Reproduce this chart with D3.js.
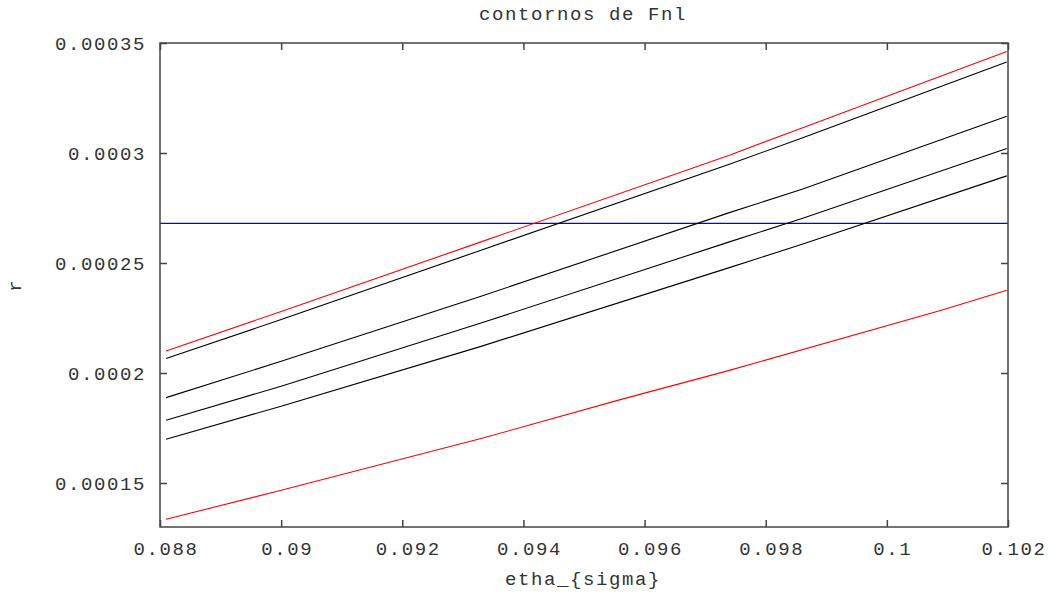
<!DOCTYPE html>
<html>
<head>
<meta charset="utf-8">
<script src="https://cdn.jsdelivr.net/npm/d3@7"></script>
<style>
  html, body { margin: 0; padding: 0; background: #fff; }
  svg text { font-family: "Liberation Mono", "DejaVu Sans Mono", monospace; font-size: 19px; letter-spacing: 1.6px; fill: #333; }
</style>
</head>
<body>
<svg id="chart" width="1049" height="593"></svg>
<script>
// ---- data ----
const xTicks = [0.088, 0.09, 0.092, 0.094, 0.096, 0.098, 0.1, 0.102];
const xTickLabels = ["0.088", "0.09", "0.092", "0.094", "0.096", "0.098", "0.1", "0.102"];
const yTicks = [0.00015, 0.0002, 0.00025, 0.0003, 0.00035];
const yTickLabels = ["0.00015", "0.0002", "0.00025", "0.0003", "0.00035"];

const etha = [0.0881, 0.09, 0.0933, 0.0974, 0.0986, 0.10198];
const redTop = [0.0002100, 0.0002280, 0.0002596, 0.0002990, 0.0003114, 0.0003461];
const black1 = [0.0002066, 0.0002243, 0.0002558, 0.0002949, 0.0003068, 0.0003414];
const black2 = [0.0001888, 0.0002053, 0.0002349, 0.0002729, 0.0002835, 0.0003167];
const black3 = [0.0001785, 0.0001940, 0.0002227, 0.0002596, 0.0002702, 0.0003020];
const black4 = [0.0001699, 0.0001849, 0.0002121, 0.0002479, 0.0002585, 0.0002896];

const ethaLow = [0.0881, 0.09, 0.0933, 0.0956, 0.0974, 0.1009, 0.10198];
const redBottom = [0.0001335, 0.0001467, 0.0001702, 0.0001879, 0.0002012, 0.0002285, 0.0002376];

const blueX = [0.088, 0.102];
const blueR = [0.000268, 0.000268];

const title = "contornos de Fnl";
const xTitle = "etha_{sigma}";
const yTitle = "r";

// ---- layout ----
const svg = d3.select("#chart");
const L = 160, R = 1008, T = 43, B = 527;
const x = d3.scaleLinear().domain([0.088, 0.102]).range([L, R]);
const y = d3.scaleLinear().domain([0.00013, 0.00035]).range([B, T]);

const axisColor = "#444";

// lines
const line = d3.line().x(d => x(d[0])).y(d => y(d[1]));
const series = [
  { xs: blueX, ys: blueR, color: "#0000ff" },
  { xs: ethaLow, ys: redBottom, color: "#ff0000" },
  { xs: etha, ys: black4, color: "#000000" },
  { xs: etha, ys: black3, color: "#000000" },
  { xs: etha, ys: black2, color: "#000000" },
  { xs: etha, ys: black1, color: "#000000" },
  { xs: etha, ys: redTop, color: "#ff0000" }
];
series.forEach(s => {
  svg.append("path")
    .datum(s.xs.map((v, i) => [v, s.ys[i]]))
    .attr("d", line)
    .attr("fill", "none")
    .attr("stroke", s.color)
    .attr("stroke-width", 1.1);
});

// axes with inward ticks, mirrored
const tickLen = 7;
const xAxisB = d3.axisBottom(x).tickValues(xTicks).tickSize(-tickLen).tickFormat("");
const xAxisT = d3.axisTop(x).tickValues(xTicks).tickSize(-tickLen).tickFormat("");
const yAxisL = d3.axisLeft(y).tickValues(yTicks).tickSize(-tickLen).tickFormat("");
const yAxisR = d3.axisRight(y).tickValues(yTicks).tickSize(-tickLen).tickFormat("");

function styleAxis(g) {
  g.select(".domain").remove();
  g.selectAll(".tick line").attr("stroke", axisColor).attr("stroke-width", 1.5);
}
svg.append("g").attr("transform", `translate(0,${B})`).call(xAxisB).call(styleAxis);
svg.append("g").attr("transform", `translate(0,${T})`).call(xAxisT).call(styleAxis);
svg.append("g").attr("transform", `translate(${L},0)`).call(yAxisL).call(styleAxis);
svg.append("g").attr("transform", `translate(${R},0)`).call(yAxisR).call(styleAxis);

// frame
svg.append("rect")
  .attr("x", L).attr("y", T).attr("width", R - L).attr("height", B - T)
  .attr("fill", "none").attr("stroke", axisColor).attr("stroke-width", 1.5);

// tick labels
svg.append("g").selectAll("text").data(xTicks).join("text")
  .attr("x", d => x(d) + 6)
  .attr("y", 555)
  .attr("text-anchor", "middle")
  .text((d, i) => xTickLabels[i]);

svg.append("g").selectAll("text").data(yTicks).join("text")
  .attr("x", 146)
  .attr("y", d => y(d) + 7)
  .attr("text-anchor", "end")
  .text((d, i) => yTickLabels[i]);

// titles
svg.append("text").attr("x", 583).attr("y", 20).attr("text-anchor", "middle").text(title);
svg.append("text").attr("x", 583).attr("y", 585).attr("text-anchor", "middle").text(xTitle);
svg.append("text")
  .attr("transform", "translate(21,286) rotate(-90)")
  .attr("text-anchor", "middle")
  .style("letter-spacing", "0px")
  .text(yTitle);
</script>
</body>
</html>
